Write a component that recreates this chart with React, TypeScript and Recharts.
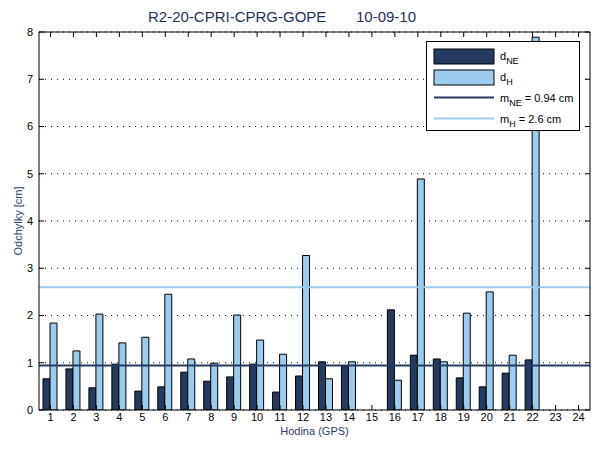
import {
  ComposedChart,
  Bar,
  Line,
  XAxis,
  YAxis,
  CartesianGrid,
  ReferenceLine,
  Legend,
} from 'recharts';

// hour of day (GPS)
const hours = [1, 2, 3, 4, 5, 6, 7, 8, 9, 10, 11, 12, 13, 14, 15, 16, 17, 18, 19, 20, 21, 22, 23, 24];
const dNE = [0.66, 0.87, 0.47, 0.97, 0.4, 0.49, 0.8, 0.61, 0.7, 0.97, 0.38, 0.72, 1.02, 0.93, null, 2.12, 1.16, 1.08, 0.68, 0.49, 0.78, 1.06, null, null];
const dH = [1.84, 1.25, 2.03, 1.42, 1.54, 2.45, 1.08, 0.99, 2.01, 1.48, 1.18, 3.27, 0.66, 1.02, null, 0.63, 4.89, 1.02, 2.05, 2.5, 1.16, 7.89, null, null];
const yTicks = [0, 1, 2, 3, 4, 5, 6, 7, 8];
const mNE = 0.94;
const mH = 2.6;

const NAVY = '#243a5e';
const LIGHT = '#9ccbeb';
const TITLE = '#1f3158';

const data = hours.map((h, i) => ({ hour: h, dNE: dNE[i], dH: dH[i] }));

const font = 'Liberation Sans, Arial';
const tickStyle = { fontSize: 11, fill: '#000', fontFamily: font };
const noLabel = () => '';

const LegendBox = () => (
  <div
    style={{
      width: 154,
      height: 90,
      border: '1px solid #000',
      background: '#fff',
      fontFamily: font,
      fontSize: 11,
      boxSizing: 'border-box',
      position: 'relative',
    }}
  >
    <svg width={154} height={90} style={{ position: 'absolute', left: 0, top: 0 }}>
      <rect x={7} y={7} width={60} height={15} fill={NAVY} stroke="#000" />
      <rect x={7} y={28} width={60} height={15} fill={LIGHT} stroke="#000" />
      <line x1={7} x2={67} y1={55.5} y2={55.5} stroke={NAVY} strokeWidth={2} />
      <line x1={7} x2={67} y1={76.5} y2={76.5} stroke={LIGHT} strokeWidth={2} />
      <text x={73} y={18} fontSize={11}>
        d<tspan dy={4} fontSize={9}>NE</tspan>
      </text>
      <text x={73} y={39} fontSize={11}>
        d<tspan dy={4} fontSize={9}>H</tspan>
      </text>
      <text x={73} y={60} fontSize={11}>
        m<tspan dy={4} fontSize={9}>NE</tspan>
        <tspan dy={-4}> = 0.94 cm</tspan>
      </text>
      <text x={73} y={81} fontSize={11}>
        m<tspan dy={4} fontSize={9}>H</tspan>
        <tspan dy={-4}>  = 2.6 cm</tspan>
      </text>
    </svg>
  </div>
);

const titleStyle = {
  position: 'absolute' as const,
  top: 8,
  fontFamily: font,
  fontSize: 15,
  color: TITLE,
  whiteSpace: 'pre' as const,
  zIndex: 2,
};

export default function App() {
  return (
    <div style={{ position: 'absolute', left: 0, top: 0, width: 600, height: 450, background: '#fff' }}>
      <div style={{ ...titleStyle, left: 148 }}>R2-20-CPRI-CPRG-GOPE</div>
      <div style={{ ...titleStyle, left: 356 }}>10-09-10</div>
      <ComposedChart
        width={600}
        height={450}
        data={data}
        margin={{ top: 32, right: 10, bottom: 15, left: 0 }}
        barSize={7}
        barGap={0}
      >
        <CartesianGrid vertical={false} stroke="#000" strokeDasharray="1 5" xAxisId={1} yAxisId={1} />
        <XAxis
          xAxisId={1}
          dataKey="hour"
          interval={0}
          height={25}
          tickSize={-5}
          tickMargin={8}
          tick={tickStyle}
          axisLine={{ stroke: '#000' }}
          tickLine={{ stroke: '#000' }}
          label={{
            value: 'Hodina (GPS)',
            position: 'insideBottom',
            offset: 0,
            style: { fontSize: 11, fill: '#2c3e66', fontFamily: font },
          }}
        />
        {/* top edge of the box: mirrored so ticks point inward, no labels */}
        <XAxis
          xAxisId={2}
          orientation="top"
          mirror
          dataKey="hour"
          interval={0}
          height={10}
          tickSize={5}
          tickFormatter={noLabel}
          axisLine={{ stroke: '#000' }}
          tickLine={{ stroke: '#000' }}
        />
        <YAxis
          yAxisId={1}
          domain={[0, 8]}
          ticks={yTicks}
          width={39}
          tickSize={-5}
          tickMargin={11}
          tick={tickStyle}
          axisLine={{ stroke: '#000' }}
          tickLine={{ stroke: '#000' }}
          allowDataOverflow
          label={{
            value: 'Odchylky [cm]',
            angle: -90,
            position: 'insideLeft',
            offset: 18,
            style: { textAnchor: 'middle', fontSize: 11, fill: '#2c3e66', fontFamily: font },
          }}
        />
        {/* right edge of the box */}
        <YAxis
          yAxisId={2}
          orientation="right"
          mirror
          domain={[0, 8]}
          ticks={yTicks}
          width={10}
          tickSize={5}
          tickFormatter={noLabel}
          axisLine={{ stroke: '#000' }}
          tickLine={{ stroke: '#000' }}
        />
        <Bar xAxisId={1} yAxisId={1} dataKey="dNE" fill={NAVY} stroke="#000" strokeWidth={1} isAnimationActive={false} />
        <Bar xAxisId={1} yAxisId={1} dataKey="dH" fill={LIGHT} stroke="#000" strokeWidth={1} isAnimationActive={false} />
        {/* transparent series so the box axes get a domain */}
        <Line
          xAxisId={2}
          yAxisId={2}
          dataKey="dNE"
          stroke="transparent"
          dot={false}
          activeDot={false}
          legendType="none"
          isAnimationActive={false}
        />
        <ReferenceLine xAxisId={1} yAxisId={1} y={mNE} stroke={NAVY} strokeWidth={2} />
        <ReferenceLine xAxisId={1} yAxisId={1} y={mH} stroke={LIGHT} strokeWidth={2} />
        <Legend
          layout="vertical"
          align="center"
          verticalAlign="middle"
          content={<LegendBox />}
          wrapperStyle={{ left: 426, top: 41, width: 154, height: 90 }}
        />
      </ComposedChart>
    </div>
  );
}
